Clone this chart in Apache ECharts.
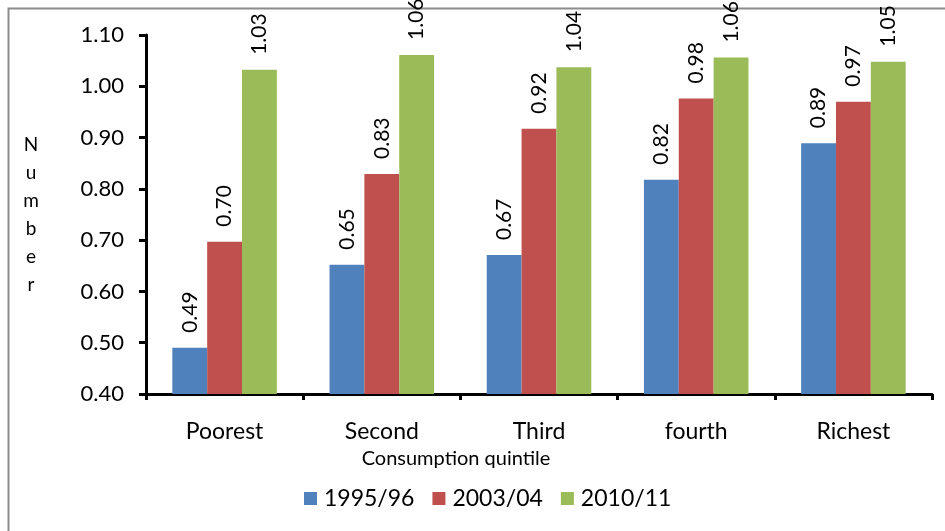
<!DOCTYPE html>
<html>
<head>
<meta charset="utf-8">
<script src="https://cdn.jsdelivr.net/npm/echarts@6/dist/echarts.min.js"></script>
<style>
  html, body { margin: 0; padding: 0; background: #fff; }
  #chart { width: 945px; height: 531px; }
</style>
</head>
<body>
<div id="chart"></div>
<script>
// Consumption quintiles on the x axis
const categories = ['Poorest', 'Second', 'Third', 'fourth', 'Richest'];

// One value per quintile for each survey round
const seriesNames = ['1995/96', '2003/04', '2010/11'];
const values1995 = [0.490, 0.652, 0.671, 0.818, 0.889];
const values2003 = [0.697, 0.829, 0.917, 0.976, 0.970];
const values2010 = [1.032, 1.061, 1.037, 1.056, 1.048];

// Y axis range and step
const yMin = 0.40;
const yMax = 1.10;
const yStep = 0.10;

const colors = ['#4F81BD', '#C0504D', '#9BBB59'];
const FONT = 'Lato, "Open Sans", sans-serif';

const chart = echarts.init(document.getElementById('chart'), null, { renderer: 'canvas' });

function barSeries(name, data, color) {
  return {
    name: name,
    type: 'bar',
    data: data,
    barGap: '0%',
    barCategoryGap: '33.5%',
    itemStyle: { color: color },
    label: {
      show: true,
      position: 'top',
      rotate: 90,
      align: 'left',
      verticalAlign: 'middle',
      distance: 15,
      fontFamily: FONT,
      fontSize: 21,
      color: '#000',
      formatter: p => p.value.toFixed(2)
    }
  };
}

chart.setOption({
  animation: false,
  backgroundColor: '#ffffff',
  textStyle: { fontFamily: FONT },
  graphic: [{
    type: 'rect',
    shape: { x: 8.5, y: 8.5, width: 960, height: 560 },
    style: { fill: 'none', stroke: '#8c8c8c', lineWidth: 2 },
    silent: true
  }],
  grid: { left: 146, right: 13, top: 35, bottom: 137 },
  legend: {
    bottom: 16,
    left: 299,
    itemWidth: 13,
    itemHeight: 13,
    itemGap: 18,
    icon: 'rect',
    textStyle: { fontFamily: FONT, fontSize: 23, color: '#000', padding: [0, 0, 0, 2] },
    data: seriesNames
  },
  xAxis: {
    type: 'category',
    data: categories,
    name: 'Consumption quintile',
    nameLocation: 'middle',
    nameGap: 55,
    // title sits left of the axis midpoint
    nameTextStyle: { fontFamily: FONT, fontSize: 20, color: '#000', padding: [0, 166, 0, 0] },
    axisLine: { lineStyle: { color: '#000', width: 3 } },
    axisTick: { show: true, length: 6, lineStyle: { color: '#000', width: 3 } },
    axisLabel: { margin: 26, fontFamily: FONT, fontSize: 23, color: '#000' }
  },
  yAxis: {
    type: 'value',
    min: yMin,
    max: yMax,
    interval: yStep,
    name: 'Number'.split('').join('\n'),
    nameLocation: 'middle',
    nameRotate: 0,
    nameGap: 115,
    nameTextStyle: { fontFamily: FONT, fontSize: 19, color: '#000', lineHeight: 28, align: 'center' },
    splitLine: { show: false },
    axisLine: { show: true, lineStyle: { color: '#000', width: 3 } },
    axisTick: { show: true, length: 7, lineStyle: { color: '#000', width: 3 } },
    axisLabel: {
      margin: 22,
      fontFamily: FONT,
      fontSize: 22,
      color: '#000',
      formatter: v => v.toFixed(2)
    }
  },
  series: [
    barSeries(seriesNames[0], values1995, colors[0]),
    barSeries(seriesNames[1], values2003, colors[1]),
    barSeries(seriesNames[2], values2010, colors[2])
  ]
});
</script>
</body>
</html>
